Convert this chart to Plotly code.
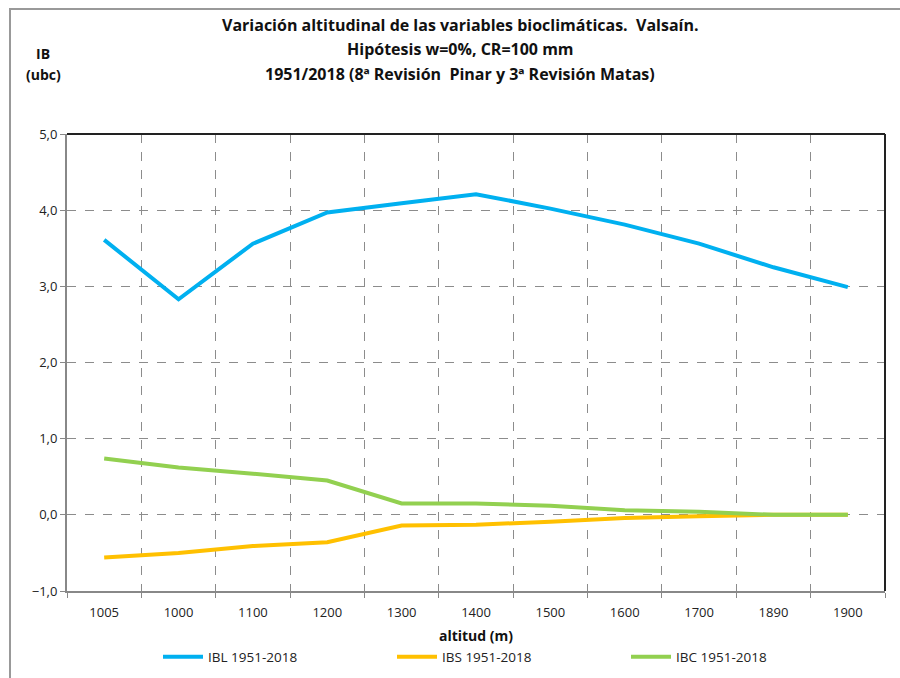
import plotly.graph_objects as go

# Altitude classes (category axis) and bioclimatic indices
altitudes = ["1005", "1000", "1100", "1200", "1300", "1400", "1500", "1600", "1700", "1890", "1900"]
ibl = [3.61, 2.83, 3.56, 3.97, 4.09, 4.21, 4.02, 3.81, 3.56, 3.25, 2.99]
ibs = [-0.56, -0.50, -0.41, -0.36, -0.14, -0.13, -0.09, -0.04, -0.02, 0.0, 0.0]
ibc = [0.74, 0.62, 0.54, 0.45, 0.15, 0.15, 0.12, 0.06, 0.04, 0.0, 0.0]

series = [
    ("IBL 1951-2018", ibl, "#00B0F0"),
    ("IBS 1951-2018", ibs, "#FFC000"),
    ("IBC 1951-2018", ibc, "#92D050"),
]

FONT = "Open Sans, Carlito, Calibri, sans-serif"
PLOT_W, PLOT_H = 818, 457
L, T = 67, 134


def px_x(x):
    return (x - L) / PLOT_W


def px_y(y):
    return 1 + (T - y) / PLOT_H


fig = go.Figure()
for name, vals, color in series:
    fig.add_trace(go.Scatter(
        x=altitudes, y=vals, name=name, mode="lines",
        line=dict(color=color, width=4),
    ))

fig.update_layout(
    width=900, height=678,
    margin=dict(l=L, r=15, t=T, b=87, autoexpand=False),
    paper_bgcolor="white", plot_bgcolor="white",
    font=dict(family=FONT, size=13, color="#222222"),
    separators=",.",
    showlegend=True,
    legend=dict(
        orientation="h", x=px_x(158), xanchor="left", y=px_y(657), yanchor="middle",
        font=dict(size=13.5, color="#222222"),
        itemwidth=40,
        entrywidth=179, entrywidthmode="pixels",
        bgcolor="rgba(0,0,0,0)", tracegroupgap=0,
    ),
)

fig.update_xaxes(
    type="category", range=[-0.5, 10.5],
    tickson="boundaries", ticks="outside", ticklen=5, tickcolor="#888888",
    ticklabelstandoff=8,
    showgrid=True, gridcolor="#8c8c8c", griddash="dash", gridwidth=1,
    showline=True, linecolor="#888888", linewidth=2,
    tickfont=dict(size=13, color="#222222"),
    title=dict(text="<b>altitud (m)</b>", font=dict(size=14, color="#111111"), standoff=12),
)
fig.update_yaxes(
    range=[-1, 5], dtick=1, tickformat=".1f",
    ticks="outside", ticklen=5, tickcolor="#888888",
    showgrid=True, gridcolor="#8c8c8c", griddash="dash", gridwidth=1,
    showline=True, linecolor="#888888", linewidth=2,
    zeroline=False,
    tickfont=dict(size=13, color="#222222"),
)

# Plot-area top and right borders
fig.add_shape(type="line", xref="paper", yref="paper", x0=0, x1=1, y0=1, y1=1,
              line=dict(color="#222222", width=2))
fig.add_shape(type="line", xref="paper", yref="paper", x0=1, x1=1, y0=0, y1=1,
              line=dict(color="#222222", width=2))

# Outer chart frame (continues past the right and bottom edges)
fig.add_shape(type="rect", xref="paper", yref="paper",
              x0=px_x(10), x1=px_x(960), y0=px_y(760), y1=px_y(9),
              line=dict(color="#999999", width=2))

titles = [
    "Variación altitudinal de las variables bioclimáticas.  Valsaín.",
    "Hipótesis w=0%, CR=100 mm",
    "1951/2018 (8ª Revisión  Pinar y 3ª Revisión Matas)",
]
for i, t in enumerate(titles):
    fig.add_annotation(
        text="<b>" + t + "</b>", xref="paper", yref="paper",
        x=px_x(460), y=px_y(25 + 24.5 * i),
        xanchor="center", yanchor="middle", showarrow=False,
        font=dict(size=16, color="#111111"),
    )

for txt, yy in (("<b>IB</b>", 53), ("<b>(ubc)</b>", 74)):
    fig.add_annotation(text=txt, xref="paper", yref="paper",
                       x=px_x(43), y=px_y(yy),
                       xanchor="center", yanchor="middle", showarrow=False,
                       font=dict(size=14, color="#111111"))

fig.write_html("out.html")
